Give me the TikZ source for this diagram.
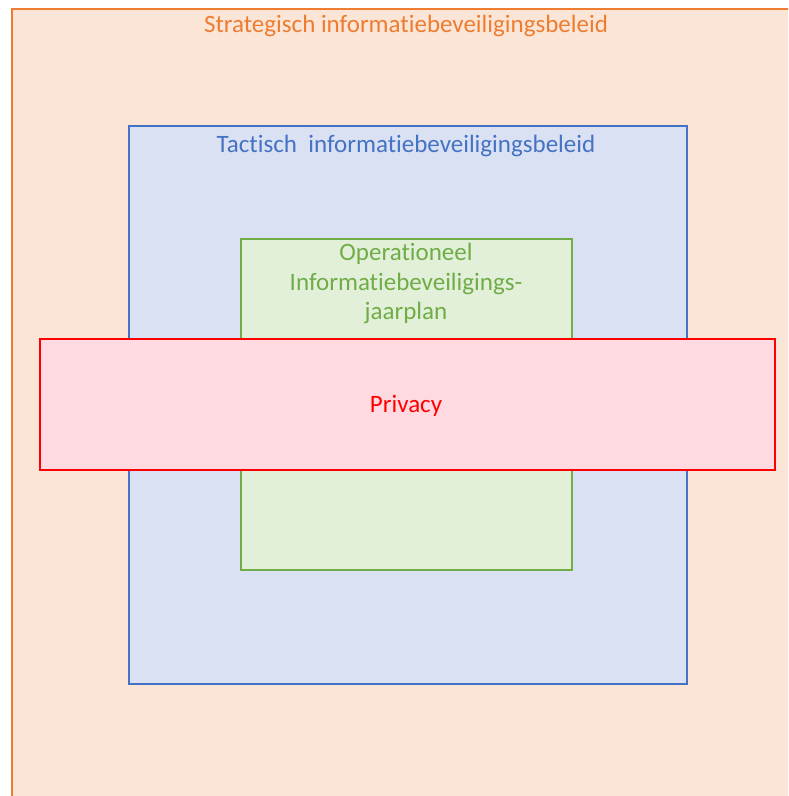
\documentclass[tikz,border=0pt]{standalone}
\usepackage{fontspec}
\setmainfont[Ligatures=NoCommon]{Carlito}
\definecolor{stratline}{HTML}{ED7D31}
\definecolor{stratfill}{HTML}{FBE5D6}
\definecolor{taktline}{HTML}{4472C4}
\definecolor{taktfill}{HTML}{DAE1F3}
\definecolor{operline}{HTML}{70AD47}
\definecolor{operfill}{HTML}{E2EFD9}
\definecolor{privline}{HTML}{FF0000}
\definecolor{privfill}{HTML}{FFDBE1}
\tikzstyle{box} = [draw,line width=2.2pt,inner sep=0pt,anchor=north west]
\tikzstyle{label} = [inner sep=0pt,font=\fontsize{25}{29.5}\selectfont]

\begin{document}
\begin{tikzpicture}[x=1pt,y=-1pt]
          \useasboundingbox (0,0) rectangle (788,796);
          \clip (0,0) rectangle (788,796);
          % layers
          \node[box,draw=stratline,fill=stratfill,minimum width=800pt,minimum height=810pt] at (10.5,7.5) (strat) {};
          \node[box,draw=taktline,fill=taktfill,minimum width=558pt,minimum height=558pt] at (127.5,124.5) (takt) {};
          \node[box,draw=operline,fill=operfill,minimum width=331pt,minimum height=331pt] at (239.5,237.5) (oper) {};
          \node[box,draw=privline,fill=privfill,minimum width=735pt,minimum height=131pt,line width=2.6pt] at (38.5,337.5) (priv) {};

          % texts
          \node[label,text=stratline,anchor=base] at (406,32) (stratlabel) {Strategisch informatiebeveiligingsbeleid};
          \node[label,text=taktline,anchor=base] at (406,152) (taktlabel) {Tactisch\ \ informatiebeveiligingsbeleid};
          \node[label,text=operline,anchor=north,align=center] at (406,243) (operlabel) {Operationeel\\Informatiebeveiligings-\\jaarplan};
          \node[label,text=privline,anchor=base] at (406,412) (privlabel) {Privacy};
        \end{tikzpicture}
\end{document}
